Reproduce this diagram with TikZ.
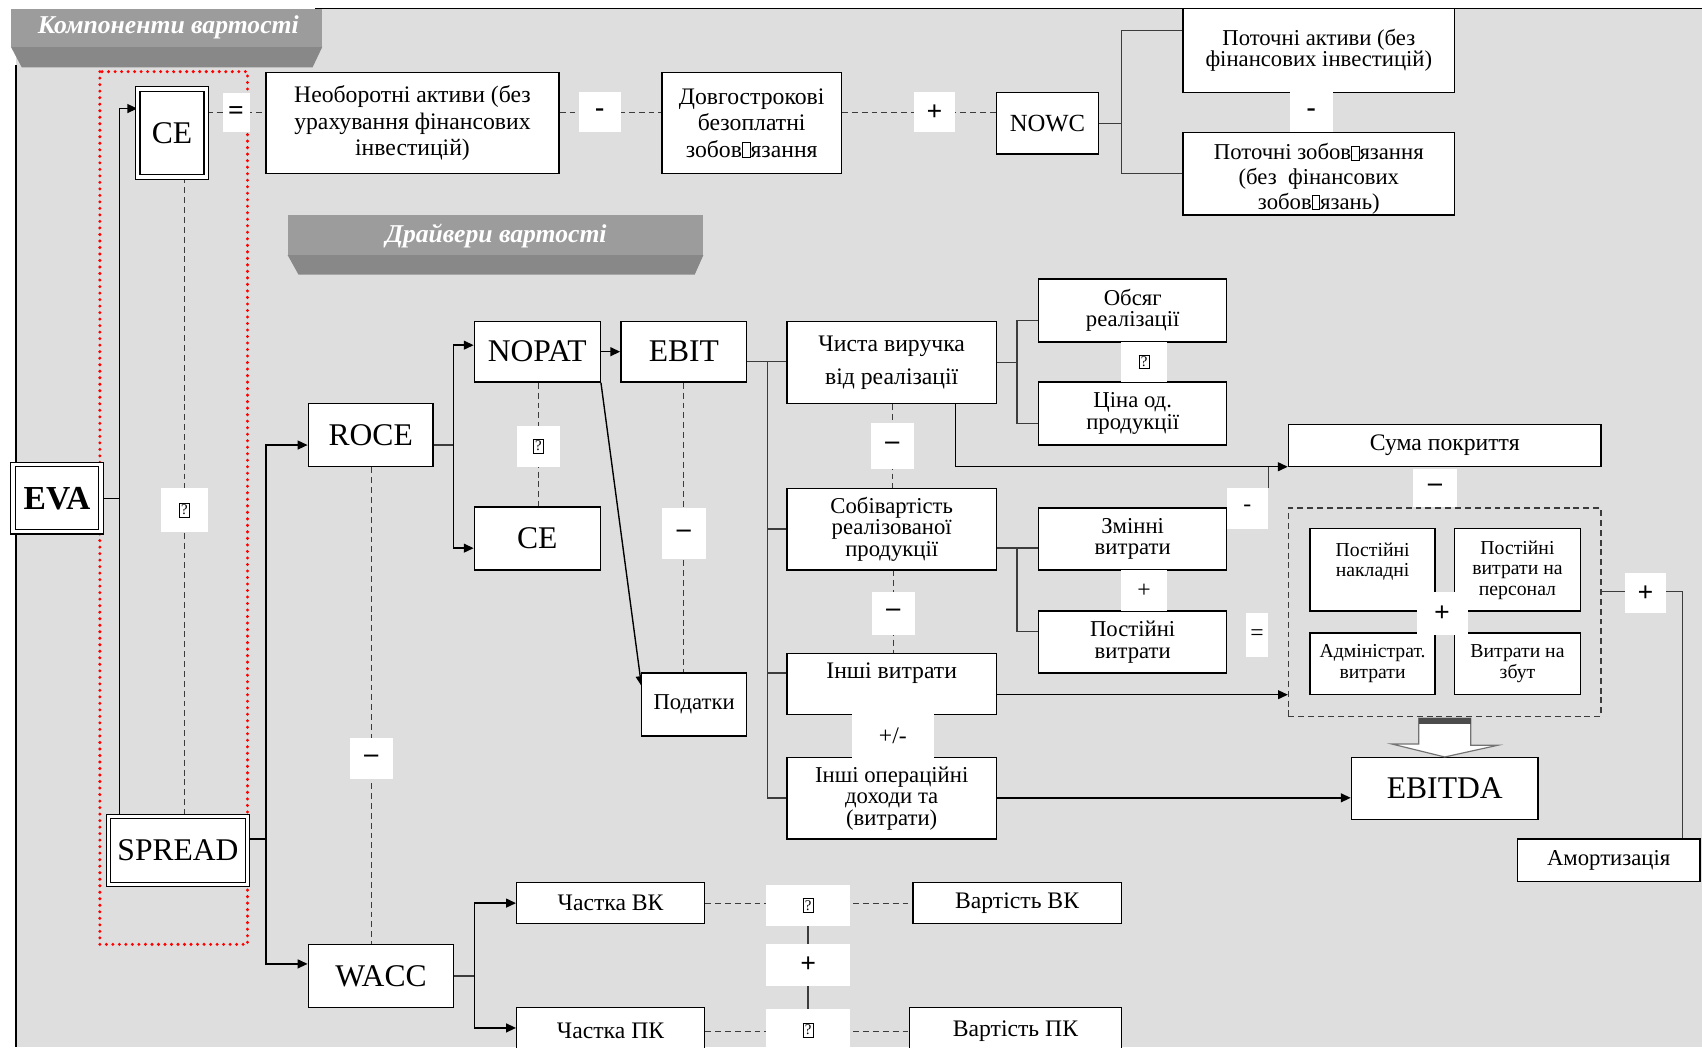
\documentclass[tikz,border=0pt]{standalone}
\usepackage{fontspec}
\setmainfont{Liberation Serif}
\usetikzlibrary{arrows.meta,calc}
\definecolor{bgray}{HTML}{DEDEDE}
\definecolor{band1}{HTML}{9C9C9C}
\definecolor{band2}{HTML}{888888}
\definecolor{lgray}{HTML}{3C3C3C}
\newcommand{\qbox}{{\setlength{\fboxsep}{0.7pt}\setlength{\fboxrule}{0.4pt}\fbox{\fontsize{7.5}{7.5}\selectfont ?}}}
\newcommand{\apbox}{{\setlength{\fboxsep}{0pt}\setlength{\fboxrule}{0.4pt}\fbox{\rule{0pt}{0.6em}\kern0.3em}}}
% box by its corners: [style]{name}{x1}{y1}{x2}{y2}{text}
\newcommand{\rbox}[7][box]{\node[#1, minimum width={(#5-#3)*0.55pt}, minimum height={(#6-#4)*0.55pt}] (#2) at ({(#3+#5)/2},{(#4+#6)/2}) {#7};}
\pgfdeclarelayer{back}
\pgfdeclarelayer{lines}
\pgfsetlayers{back,lines,main}
\tikzset{
  box/.style={draw=black, fill=white, line width=0.7pt, align=center, inner sep=0pt,
    font=\fontsize{12}{13.5}\selectfont},
  dbox/.style={box, double=white, double distance=1.6pt, line width=0.6pt},
  big/.style={font=\fontsize{16}{18}\selectfont},
  nar/.style={font=\fontsize{11.5}{10.8}\selectfont},
  sml/.style={font=\fontsize{10}{10.4}\selectfont},
  grpbox/.style={draw=lgray, line width=0.6pt, dash pattern=on 3pt off 2pt},
  opl/.style={fill=white, inner sep=0pt, font=\bfseries\fontsize{14}{14}\selectfont},
  thin/.style={font=\fontsize{12}{12}\selectfont},
  opq/.style={font=\normalfont},
  ban/.style={text=white, font=\bfseries\itshape\fontsize{13}{13}\selectfont},
  ln/.style={draw=lgray, line width=0.7pt},
  arr/.style={draw=black, line width=0.7pt, -{Triangle[length=5pt,width=4.5pt]}},
  dsh/.style={draw=lgray, line width=0.5pt, dash pattern=on 3pt off 2pt},
  reddot/.style={draw=red, line width=1.7pt, dash pattern=on 0pt off 3.3pt, line cap=round},
  barrow/.style={fill=white, draw=black!55, line width=0.6pt}
}
\begin{document}
\begin{tikzpicture}[x=0.55pt,y=-0.55pt]
\useasboundingbox (0,0) rectangle (1568,965);
\clip (0,0) rectangle (1568,965);

\begin{pgfonlayer}{back}
  \fill[white] (0,0) rectangle (1568,965);
  \fill[bgray] (15,8) rectangle (1568,965);
  \draw[line width=0.8pt] (15,60) -- (15,965);
  \draw[line width=0.8pt] (290,8) -- (1568,8);
  % banners
  \fill[band2] (10,43) -- (297,43) -- (288,62) -- (20,62) -- cycle;
  \fill[band1] (10,8) rectangle (297,43);
  \fill[band2] (265,235) -- (648,235) -- (640,253) -- (275,253) -- cycle;
  \fill[band1] (265,198) rectangle (648,235);
\end{pgfonlayer}
\node[ban] (ban1) at (155,25) {Компоненти вартості};
\node[ban] (ban2) at (457,217) {Драйвери вартості};

% components
\rbox[dbox,font=\bfseries\fontsize{17}{18}\selectfont]{eva}{12}{428}{93}{490}{EVA}
\rbox[dbox,big]{ceA}{127}{82}{190}{163}{CE}
\rbox[dbox,big]{spread}{100}{752}{228}{815}{SPREAD}
\rbox{nca}{245}{67}{515}{160}{Необоротні активи (без\\урахування фінансових\\інвестицій)}
\rbox{ltl}{610}{67}{775}{160}{Довгострокові\\безоплатні\\зобов\apbox язання}
\rbox[box,font=\fontsize{12.5}{13}\selectfont]{nowc}{918}{85}{1012}{142}{NOWC}
\rbox[box,nar]{ca}{1090}{8}{1340}{85}{Поточні активи (без\\фінансових інвестицій)}
\rbox{cl}{1090}{122}{1340}{198}{}
\begin{scope}
  \clip (1090,122) rectangle (1340,197);
  \node[align=center, inner sep=0pt, font=\fontsize{11.5}{12.5}\selectfont, anchor=north] (clt) at (1215,132)
    {Поточні зобов\apbox язання\\(без~ фінансових\\зобов\apbox язань)};
\end{scope}

% drivers
\rbox[box,big]{roce}{284}{372}{399}{430}{ROCE}
\rbox[box,big]{nopat}{437}{296}{553}{352}{NOPAT}
\rbox[box,big]{ceB}{437}{467}{553}{525}{CE}
\rbox[box,big]{ebit}{572}{296}{688}{352}{EBIT}
\rbox[box,nar]{tax}{591}{620}{688}{678}{Податки}
\rbox[box,big]{wacc}{284}{870}{418}{928}{WACC}
\rbox{shE}{476}{813}{649}{851}{Частка ВК}
\rbox{shD}{476}{928}{649}{972}{Частка ПК}
\rbox{coE}{841}{813}{1033}{851}{Вартість ВК}
\rbox{coD}{838}{928}{1033}{972}{Вартість ПК}
\rbox{rev}{725}{296}{918}{372}{Чиста виручка\\[3pt]від реалізації}
\rbox[box,nar]{cogs}{725}{450}{918}{525}{Собівартість\\реалізованої\\продукції}
\rbox{oexp}{725}{602}{918}{658}{Інші витрати\\\mbox{}}
\rbox[box,nar]{oinc}{725}{698}{918}{773}{Інші операційні\\доходи та\\(витрати)}
\rbox[box,nar]{vol}{957}{257}{1130}{315}{Обсяг\\реалізації}
\rbox[box,nar]{price}{957}{352}{1130}{410}{Ціна од.\\продукції}
\rbox[box,nar]{var}{957}{468}{1130}{525}{Змінні\\витрати}
\rbox[box,nar]{fix}{957}{563}{1130}{620}{Постійні\\витрати}
\rbox{cm}{1187}{391}{1475}{430}{Сума покриття}
\rbox[grpbox]{grp}{1187}{468}{1475}{660}{}
\rbox[box,sml]{fo}{1207}{487}{1322}{563}{Постійні\\накладні\\\mbox{}}
\rbox[box,sml]{fp}{1340}{487}{1456}{563}{Постійні\\витрати на\\персонал}
\rbox[box,sml]{adm}{1207}{583}{1322}{640}{Адміністрат.\\витрати}
\rbox[box,sml]{sell}{1340}{583}{1456}{640}{Витрати на\\збут}
\rbox[box,big]{ebitda}{1245}{698}{1417}{755}{EBITDA}
\rbox[box,nar]{amort}{1398}{773}{1566}{812}{Амортизація}

% operation signs
\rbox[opl]{o1}{205}{86}{230}{122}{=}
\rbox[opl]{o2}{533}{85}{572}{122}{-}
\rbox[opl]{o3}{842}{85}{880}{122}{+}
\rbox[opl]{o4}{1188}{85}{1228}{122}{-}
\rbox[opl,opq]{o5}{148}{450}{192}{490}{\qbox}
\rbox[opl,opq]{o6}{476}{392}{516}{430}{\qbox}
\rbox[opl]{o7}{610}{468}{650}{515}{–}
\rbox[opl]{o8}{322}{680}{362}{718}{–}
\rbox[opl]{o9}{802}{390}{842}{432}{–}
\rbox[opl]{o10}{803}{545}{843}{585}{–}
\rbox[opl,thin]{o11}{785}{658}{860}{698}{+/-}
\rbox[opl,opq]{o12}{1033}{315}{1075}{352}{\qbox}
\rbox[opl,thin]{o13}{1033}{525}{1075}{563}{+}
\rbox[opl,thin]{o14}{1130}{450}{1168}{487}{-}
\rbox[opl,thin]{o15}{1148}{565}{1168}{605}{=}
\rbox[opl]{o16}{1302}{432}{1342}{467}{–}
\rbox[opl]{o17}{1305}{545}{1352}{585}{+}
\rbox[opl]{o18}{1497}{528}{1535}{565}{+}
\rbox[opl,opq]{o19}{706}{815}{783}{853}{\qbox}
\rbox[opl]{o20}{706}{870}{783}{908}{+}
\rbox[opl,opq]{o21}{706}{930}{783}{968}{\qbox}

% group -> EBITDA
\filldraw[barrow] ($(grp.south)+(-24,1)$) -- ++(48,0) -- ++(0,25) -- ++(25,0)
  -- (ebitda.north -| grp.south) -- ++(-49,-12) -- ++(25,0) -- cycle;
\fill[black!70] ($(grp.south)+(-24,1)$) rectangle ++(48,5);

\begin{pgfonlayer}{lines}
  \draw[reddot] (92,66) rectangle (228,870);
  % EVA
  \coordinate (ja) at (110,100);
  \coordinate (jb) at (110,773);
  \draw[ln,draw=black] (eva.east) -- (eva.east -| ja);
  \draw[arr] (jb) -- (ja) -- (ja -| ceA.west);
  \draw[arr] (ja) -- (jb) -- (jb -| spread.west);
  % SPREAD
  \coordinate (jc) at (245,410);
  \coordinate (jd) at (245,888);
  \draw[ln,draw=black] (jb -| spread.east) -- (jb -| jc);
  \draw[arr] (jd) -- (jc) -- (jc -| roce.west);
  \draw[arr] (jc) -- (jd) -- (jd -| wacc.west);
  % ROCE
  \coordinate (je) at (418,318);
  \coordinate (jf) at (418,505);
  \draw[ln] (jc -| roce.east) -- (jc -| je);
  \draw[arr] (jf) -- (je) -- (je -| nopat.west);
  \draw[arr] (je) -- (jf) -- (jf -| ceB.west);
  % NOPAT
  \coordinate (tin) at (591,632);
  \draw[arr] (nopat) -- (ebit);
  \draw[arr] (nopat.south east) -- (tin);
  % WACC
  \coordinate (jw) at (437,832);
  \coordinate (jx) at (437,947);
  \draw[ln] (wacc.east) -- (wacc.east -| jw);
  \draw[arr] (jx) -- (jw) -- (jw -| shE.west);
  \draw[arr] (jw) -- (jx) -- (jx -| shD.west);
  % EBIT
  \coordinate (jg) at (707,333);
  \coordinate (jh) at (707,735);
  \coordinate (ji) at (707,620);
  \draw[ln] (jg -| ebit.east) -- (jg) -- (jh) -- (jh -| oinc.west);
  \draw[ln] (jg) -- (jg -| rev.west);
  \draw[ln] (jg |- cogs.west) -- (cogs.west);
  \draw[ln] (ji) -- (ji -| oexp.west);
  % revenue
  \coordinate (jk) at (937,295);
  \coordinate (jl) at (937,390);
  \draw[ln] (rev.east) -- (rev.east -| jk);
  \draw[ln] (jk -| vol.west) -- (jk) -- (jl) -- (jl -| price.west);
  % cost of sales
  \coordinate (jm) at (937,505);
  \coordinate (jn) at (937,582);
  \draw[ln] (jm -| cogs.east) -- (jm) -- (jn) -- (jn -| fix.west);
  \draw[ln] (jm) -- (jm -| var.west);
  % contribution
  \coordinate (jp) at (880,430);
  \draw[arr] (jp |- rev.south) -- (jp) -- (jp -| cm.west);
  \draw[ln] (o14.north east) -- (o14.north east |- jp);
  \coordinate (jq) at (918,640);
  \draw[arr] (oexp.east |- jq) -- (grp.west |- jq);
  \draw[arr] (jh -| oinc.east) -- (jh -| ebitda.west);
  % amortisation
  \coordinate (jr) at (1550,545);
  \draw[ln] (grp.east |- jr) -- (jr) -- (jr |- amort.north);
  % NOWC
  \coordinate (js) at (1033,28);
  \coordinate (jt) at (1033,160);
  \draw[ln] (nowc.east) -- (nowc.east -| js);
  \draw[ln] (js -| ca.west) -- (js) -- (jt) -- (jt -| cl.west);
  % dashed links
  \draw[dsh] (ceA.east |- o1) -- (nca.west |- o1);
  \draw[dsh] (nca.east |- o2) -- (ltl.west |- o2);
  \draw[dsh] (ltl.east |- o3) -- (nowc.west |- o3);
  \draw[dsh] (o5 |- ceA.south) -- (o5 |- spread.north);
  \draw[dsh] (o6 |- nopat.south) -- (o6 |- ceB.north);
  \draw[dsh] (o7 |- ebit.south) -- (o7 |- tax.north);
  \draw[dsh] (o8 |- roce.south) -- (o8 |- wacc.north);
  \draw[dsh] (o9 |- rev.south) -- (o9 |- cogs.north);
  \draw[dsh] (o10 |- cogs.south) -- (o10 |- oexp.north);
  \draw[dsh] (shE) -- (coE);
  \draw[dsh] (shD) -- (coD);
  \draw[ln] (o19) -- (o21);
\end{pgfonlayer}
\end{tikzpicture}
\end{document}
